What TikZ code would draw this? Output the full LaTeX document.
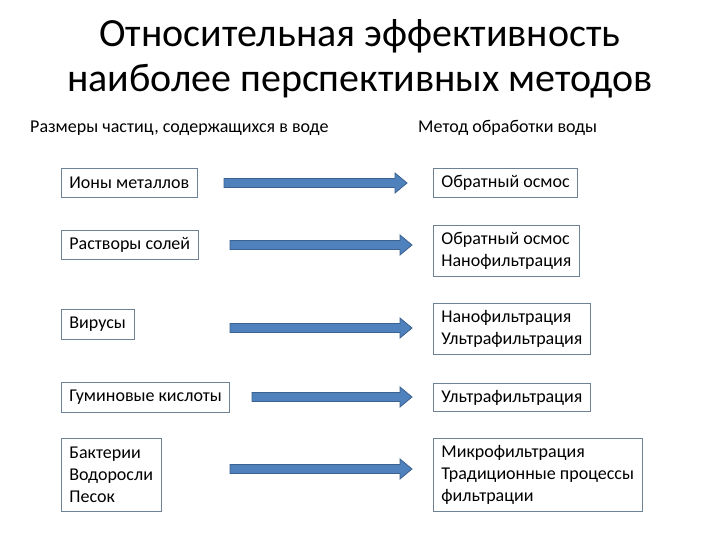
\documentclass[tikz,border=0pt]{standalone}
\usepackage{fontspec}
\setmainfont{Carlito}
\usetikzlibrary{calc}
\definecolor{arrowblue}{HTML}{4F81BD}
\definecolor{arrowedge}{HTML}{3A6190}
\definecolor{boxedge}{HTML}{6E8296}
\tikzset{
  sizebox/.style={draw=boxedge, line width=0.8pt, anchor=north west, align=left,
    inner xsep=8pt, inner ysep=0pt, font=\fontsize{18}{21.7}\selectfont},
  fatarrow/.style={fill=arrowblue, draw=arrowedge, line width=0.8pt, line join=miter,
    to path={($(\tikztostart)+(0,4.5)$) -- ($(\tikztotarget)+(-12,4.5)$)
      -- ($(\tikztotarget)+(-12,10)$) -- (\tikztotarget)
      -- ($(\tikztotarget)+(-12,-10)$) -- ($(\tikztotarget)+(-12,-4.5)$)
      -- ($(\tikztostart)+(0,-4.5)$) -- cycle}}
}
\begin{document}
\begin{tikzpicture}[x=1pt, y=-1pt]
\useasboundingbox[fill=white] (0,0) rectangle (720,540);
% title and column heads
\node[anchor=north, align=center, inner sep=0pt, font=\fontsize{40}{45}\selectfont] (title) at (360,19)
  {Относительная эффективность\\наиболее перспективных методов};
\node[anchor=base west, inner sep=0pt, font=\fontsize{18}{21}\selectfont] (headsize) at (30,133)
  {Размеры частиц, содержащихся в воде};
\node[anchor=base west, inner sep=0pt, font=\fontsize{18}{21}\selectfont] (headmethod) at (418,133)
  {Метод обработки воды};
% particle sizes
\node[sizebox, minimum height=29] (ions) at (61,168) {Ионы металлов};
\node[sizebox, minimum height=29] (salts) at (61,230) {Растворы солей};
\node[sizebox, minimum height=30] (virus) at (61,309) {Вирусы};
\node[sizebox, minimum height=30] (humic) at (61,382) {Гуминовые кислоты};
\node[sizebox, minimum height=73] (bact) at (61,438) {Бактерии\\Водоросли\\Песок};
% treatment methods
\node[sizebox, minimum height=29] (ro) at (433,168) {Обратный осмос};
\node[sizebox, minimum height=51] (ronf) at (433,225) {Обратный осмос\\Нанофильтрация};
\node[sizebox, minimum height=51] (nfuf) at (433,303) {Нанофильтрация\\Ультрафильтрация};
\node[sizebox, minimum height=28] (uf) at (433,383) {Ультрафильтрация};
\node[sizebox, minimum height=73] (mf) at (433,438) {Микрофильтрация\\Традиционные процессы\\фильтрации};
% arrows
\coordinate (s1) at (224,183); \coordinate (e1) at (407,183);
\coordinate (s2) at (230,245); \coordinate (e2) at (412,245);
\coordinate (s3) at (230,328); \coordinate (e3) at (412,328);
\coordinate (s4) at (252,397); \coordinate (e4) at (412,397);
\coordinate (s5) at (230,469); \coordinate (e5) at (412,469);
\foreach \i in {1,...,5}
  \draw[fatarrow] (s\i) to (e\i);
\end{tikzpicture}
\end{document}
